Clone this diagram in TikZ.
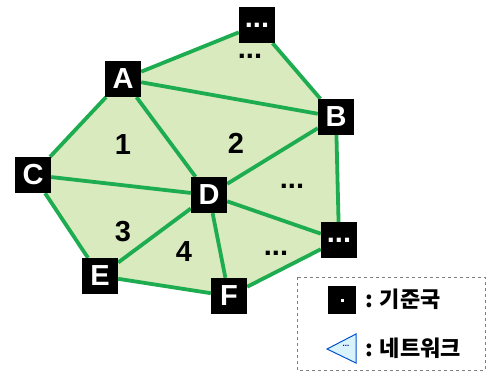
\documentclass[tikz,border=0pt]{standalone}
\usepackage{fontspec}
\setmainfont{Liberation Sans}
\newfontfamily\kr{Noto Sans CJK KR}
\usetikzlibrary{backgrounds}
\definecolor{netgreen}{RGB}{30,172,80}
\definecolor{netfill}{RGB}{216,234,190}
\tikzset{
  station/.style={fill=black,text=white,minimum size=36pt,inner sep=0pt,font=\fontsize{29}{29}\selectfont\bfseries},
  link/.style={draw=netgreen,line width=3.8pt},
  cell/.style={font=\fontsize{29}{29}\selectfont\bfseries},
  legtext/.style={anchor=west,font=\kr\fontsize{22}{22}\selectfont\bfseries},
}
\begin{document}
\begin{tikzpicture}[x=1pt,y=-1pt]
\useasboundingbox (0,0) rectangle (486,372);
% stations
\node[station] (top) at (257,25) {...};
\node[station] (A) at (123,79) {A};
\node[station] (B) at (336,117) {B};
\node[station] (C) at (33,175) {C};
\node[station] (D) at (209,195) {D};
\node[station] (rgt) at (339,240) {...};
\node[station] (E) at (100,276) {E};
\node[station] (F) at (229,296) {F};
\begin{scope}[on background layer]
\fill[netfill] (top.center)--(B.center)--(rgt.center)--(F.center)--(E.center)--(C.center)--(A.center)--cycle;
\draw[link] (A)--(top) (top)--(B) (A)--(B) (A)--(C) (A)--(D);
\draw[link] (B)--(D) (B)--(rgt) (C)--(D) (C)--(E);
\draw[link] (D)--(E) (D)--(F) (D)--(rgt) (E)--(F) (F)--(rgt);
\end{scope}
% cell numbers
\node[cell] (n1) at (123,145) {1};
\node[cell] (n2) at (236,143) {2};
\node[cell] (n3) at (123,232) {3};
\node[cell] (n4) at (184,252) {4};
\node[cell] (d1) at (250,56) {...};
\node[cell] (d2) at (292,186) {...};
\node[cell] (d3) at (276,253) {...};
% legend
\draw[gray,dashed,thick] (297,277) rectangle (485,370);
\node[fill=black,minimum size=28pt,inner sep=0pt] (lsq) at (342,300) {};
\fill[white] ([xshift=-1.5pt,yshift=-1.5pt]lsq.center) rectangle ++(3pt,3pt);
\node[legtext] (ltxt1) at (362,299) {: 기준국};
\filldraw[draw=blue!60!cyan!80!black,fill=cyan!15,line width=1pt] (327,349)--(356,334)--(356,363)--cycle;
\node[font=\fontsize{8}{8}\selectfont\bfseries,text=blue!60!black] (ldots) at (346,346) {...};
\node[legtext] (ltxt2) at (362,348) {: 네트워크};
\end{tikzpicture}
\end{document}
